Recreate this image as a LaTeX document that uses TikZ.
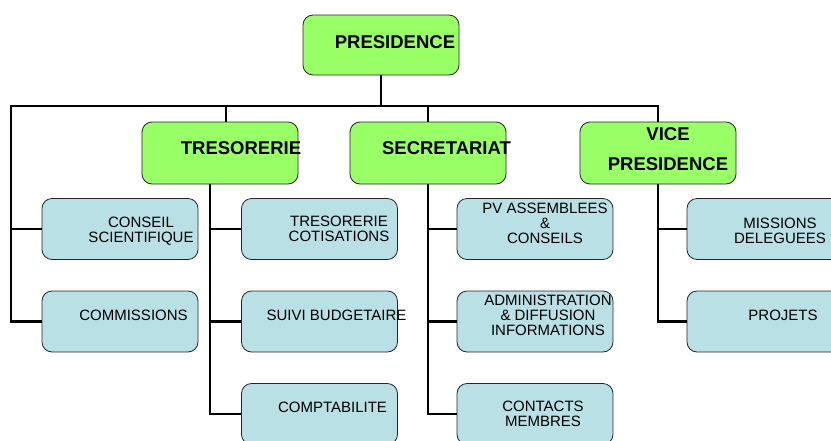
\documentclass[tikz,border=0pt]{standalone}
\usepackage{fontspec}
\setmainfont{Liberation Sans}
\usepackage{xcolor}
\definecolor{vert}{RGB}{153,255,102}
\definecolor{bleu}{RGB}{185,224,228}

\begin{document}
\begin{tikzpicture}[x=1pt, y=-1pt,
        direction/.style = {shape=rectangle, rounded corners=10pt,
          draw=black!85, fill=vert, line width=0.8pt,
          minimum width=156pt, minimum height=62pt},
        pole/.style = {shape=rectangle, rounded corners=10pt,
          draw=black!85, fill=bleu, line width=0.8pt,
          minimum width=156pt, minimum height=61pt},
        titre/.style = {font=\bfseries\fontsize{18.5}{30}\selectfont,
          align=center, inner sep=0pt},
        texte/.style = {font=\fontsize{15}{15}\selectfont,
          align=center, inner sep=0pt},
        lien/.style = {line width=2.6pt, black}]
        \useasboundingbox (0,0) rectangle (831,440);
        \node[direction, minimum height=60pt] (pres) at (381,45) {};
        \node[direction] (tres) at (220,153) {};
        \node[direction] (secr) at (428,153) {};
        \node[direction] (vice) at (658,153) {};
        \node[pole] (conseil) at (120,229) {};
        \node[pole] (comm) at (120,321.5) {};
        \node[pole] (cotis) at (319.5,229) {};
        \node[pole] (suivi) at (319.5,321.5) {};
        \node[pole] (compta) at (319.5,414) {};
        \node[pole] (pv) at (535,229) {};
        \node[pole] (admin) at (535,321.5) {};
        \node[pole] (contacts) at (535,414) {};
        \node[pole] (missions) at (765,229) {};
        \node[pole] (projets) at (765,321.5) {};

        \node[titre] (t-pres) at ([shift={(14,-3)}]pres.center) {PRESIDENCE};
        \node[titre] (t-tres) at ([shift={(21,-5)}]tres.center) {TRESORERIE};
        \node[titre] (t-secr) at ([shift={(18.5,-5)}]secr.center) {SECRETARIAT};
        \node[titre] (t-vice) at ([shift={(10,-4)}]vice.center) {VICE\\PRESIDENCE};
        \node[texte] (t-conseil) at ([shift={(21,2)}]conseil.center) {CONSEIL\\SCIENTIFIQUE};
        \node[texte] (t-comm) at ([shift={(13.5,-6.5)}]comm.center) {COMMISSIONS};
        \node[texte] (t-cotis) at ([shift={(19.5,0)}]cotis.center) {TRESORERIE\\COTISATIONS};
        \node[texte] (t-suivi) at ([shift={(17,-6.5)}]suivi.center) {SUIVI BUDGETAIRE};
        \node[texte] (t-compta) at ([shift={(13,-7)}]compta.center) {COMPTABILITE};
        \node[texte] (t-pv) at ([shift={(10,-6)}]pv.center) {PV ASSEMBLEES\\\&\\CONSEILS};
        \node[texte] (t-admin) at ([shift={(13,-6.5)}]admin.center) {ADMINISTRATION\\\& DIFFUSION\\INFORMATIONS};
        \node[texte] (t-contacts) at ([shift={(8,0)}]contacts.center) {CONTACTS\\MEMBRES};
        \node[texte] (t-missions) at ([shift={(15,2)}]missions.center) {MISSIONS\\DELEGUEES};
        \node[texte] (t-projets) at ([shift={(18,-6.5)}]projets.center) {PROJETS};

        \coordinate (busL) at (11,106);
        \coordinate (tresT) at ([xshift=-10pt]tres.south);
        \draw[lien] (pres.south) -- (pres.south |- busL);
        \draw[lien] (comm.west) -| (busL) -| (vice.north);
        \draw[lien] (busL |- conseil.west) -- (conseil.west);
        \draw[lien] ([xshift=6pt]tres.north) -- ([xshift=6pt]tres.north |- busL);
        \draw[lien] (secr.north) -- (secr.north |- busL);
        \draw[lien] (tresT) |- (compta.west);
        \draw[lien] (tresT |- cotis.west) -- (cotis.west);
        \draw[lien] (tresT |- suivi.west) -- (suivi.west);
        \draw[lien] (secr.south) |- (contacts.west);
        \draw[lien] (secr.south |- pv.west) -- (pv.west);
        \draw[lien] (secr.south |- admin.west) -- (admin.west);
        \draw[lien] (vice.south) |- (projets.west);
        \draw[lien] (vice.south |- missions.west) -- (missions.west);
\end{tikzpicture}
\end{document}
